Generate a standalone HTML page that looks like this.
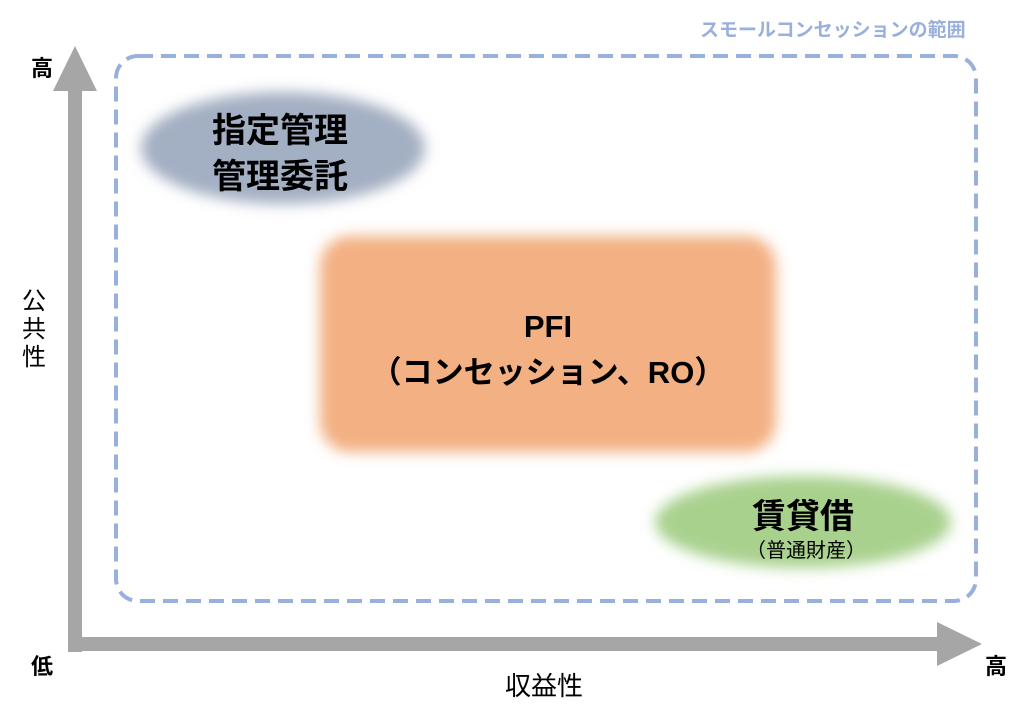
<!DOCTYPE html>
<html><head><meta charset="utf-8"><style>
body{margin:0;width:1029px;height:712px;background:#fff;position:relative;overflow:hidden;font-family:"Liberation Sans","Noto Sans CJK JP",sans-serif;}
.t{position:absolute;white-space:nowrap;}
</style></head><body>
<svg width="1029" height="712" style="position:absolute;left:0;top:0">
<defs>
<filter id="b" x="-30%" y="-30%" width="160%" height="160%"><feGaussianBlur stdDeviation="7"/></filter>
</defs>
<ellipse cx="283" cy="148" rx="142" ry="56" fill="#a3afc2" filter="url(#b)"/>
<rect x="320" y="236" width="456" height="216" rx="30" fill="#f3b083" filter="url(#b)"/>
<ellipse cx="803" cy="522" rx="148" ry="46" fill="#a9d18e" filter="url(#b)"/>
<rect x="116" y="56" width="860" height="545" rx="22" fill="none" stroke="#9ab0dc" stroke-width="4" stroke-dasharray="15 8"/>
<rect x="68" y="88" width="14" height="564" fill="#a6a6a6"/>
<polygon points="53,91 97,91 75,46" fill="#a6a6a6"/>
<rect x="68" y="637" width="872" height="14" fill="#a6a6a6"/>
<polygon points="937,622 937,666 982,644" fill="#a6a6a6"/>
</svg>
<div class="t" style="left:700px;top:15px;font-size:19px;font-weight:bold;color:#9ab0dc;">スモールコンセッションの範囲</div>
<div class="t" style="left:31px;top:51px;font-size:22px;font-weight:bold;">高</div>
<div class="t" style="left:31px;top:649px;font-size:22px;font-weight:bold;">低</div>
<div class="t" style="left:985px;top:649px;font-size:22px;font-weight:bold;">高</div>
<div class="t" style="left:22px;top:288px;font-size:24px;line-height:28px;width:26px;white-space:normal;">公共性</div>
<div class="t" style="left:505px;top:666px;font-size:26px;">収益性</div>
<div class="t" style="left:212px;top:108px;font-size:34px;font-weight:bold;line-height:46px;">指定管理<br>管理委託</div>
<div class="t" style="left:318px;top:304px;width:460px;text-align:center;font-size:31px;font-weight:bold;line-height:46px;">PFI<br>（コンセッション、RO）</div>
<div class="t" style="left:752px;top:489px;font-size:34px;font-weight:bold;">賃貸借</div>
<div class="t" style="left:746px;top:534px;font-size:20px;">（普通財産）</div>
</body></html>
